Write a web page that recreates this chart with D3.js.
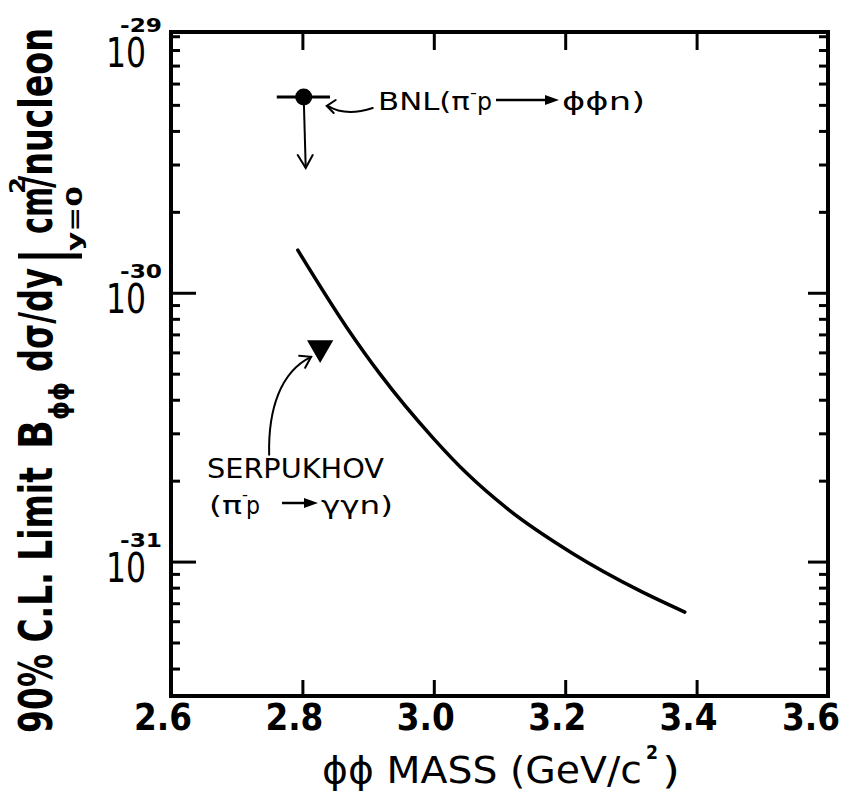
<!DOCTYPE html>
<meta charset="utf-8">
<style>
body { margin: 0; background: #fff; }
svg { font-family: "DejaVu Sans", sans-serif; }
.tick line { stroke: #000; stroke-width: 3px; }
.frame { fill: none; stroke: #000; stroke-width: 4px; }
.curve { fill: none; stroke: #000; stroke-width: 3.5px; stroke-linecap: round; }
.ann { fill: none; stroke: #000; stroke-width: 2px; stroke-linecap: round; }
</style>
<svg width="844" height="797"></svg>
<script src="https://cdn.jsdelivr.net/npm/d3@7"></script>
<script>
// phi-phi mass limit plot

var massTicks = [2.6, 2.8, 3.0, 3.2, 3.4, 3.6],
    massTickLabels = ["2.6", "2.8", "3.0", "3.2", "3.4", "3.6"];

var decadeTicks = [1e-29, 1e-30, 1e-31],
    decadeExps = ["-29", "-30", "-31"];

// the solid limit curve
var curveMass  = [2.793, 2.868, 2.918, 2.999, 3.051, 3.111, 3.212, 3.314, 3.382];
var curveLimit = [1.44e-30, 7.4e-31, 4.99e-31, 2.88e-31, 2.12e-31, 1.58e-31, 1.07e-31, 7.78e-32, 6.49e-32];

// BNL point (upper limit arrow) and Serpukhov triangle
var bnlMass = [2.802], bnlLimit = [5.35e-30],
    bnlMassLo = [2.761], bnlMassHi = [2.842], bnlArrowTo = [2.91e-30];
var serpMass = [2.827], serpLimit = [6.24e-31];

var svg = d3.select("svg"),
    L = 171, R = 828, T = 32, B = 696;

var x = d3.scaleLinear().domain([2.6, 3.6]).range([L, R]);
var y = d3.scaleLog().domain([Math.pow(10, -31.5), Math.pow(10, -29.03)]).range([B, T]);

// minor ticks: 2..9 x each decade inside the domain
var minor = [];
[-32, -31, -30].forEach(function(e) {
  d3.range(2, 10).forEach(function(k) {
    var v = k * Math.pow(10, e);
    if (v >= y.domain()[0] && v <= y.domain()[1]) minor.push(v);
  });
});

function clean(g) { g.select(".domain").remove(); g.selectAll("text").remove(); }

svg.append("g").attr("transform", "translate(" + L + ",0)")
    .call(d3.axisLeft(y).tickValues(minor).tickSize(-9)).call(clean);
svg.append("g").attr("transform", "translate(" + L + ",0)")
    .call(d3.axisLeft(y).tickValues([1e-30, 1e-31]).tickSize(-25)).call(clean);
svg.append("g").attr("transform", "translate(" + R + ",0)")
    .call(d3.axisRight(y).tickValues(minor).tickSize(-9)).call(clean);
svg.append("g").attr("transform", "translate(" + R + ",0)")
    .call(d3.axisRight(y).tickValues([1e-30, 1e-31]).tickSize(-20)).call(clean);
svg.append("g").attr("transform", "translate(0," + T + ")")
    .call(d3.axisTop(x).tickValues(massTicks.slice(1, -1)).tickSize(-18)).call(clean);
svg.append("g").attr("transform", "translate(0," + B + ")")
    .call(d3.axisBottom(x).tickValues(massTicks.slice(1, -1)).tickSize(-16)).call(clean);

svg.append("rect").attr("class", "frame")
    .attr("x", L).attr("y", T).attr("width", R - L).attr("height", B - T);

// text helpers: squeeze each run to the lettering width of the figure
function htext(str, x0, x1, base, size, weight) {
  var t = svg.append("text")
      .attr("font-size", size).attr("font-weight", weight || "normal")
      .text(str);
  var w = t.node().getComputedTextLength();
  t.attr("transform", "translate(" + x0 + "," + base + ") scale(" + ((x1 - x0) / w) + ",1)");
  return t;
}
function vtext(str, y0, y1, base, size, weight) {
  var t = svg.append("text")
      .attr("font-size", size).attr("font-weight", weight || "normal")
      .text(str);
  var w = t.node().getComputedTextLength();
  t.attr("transform", "translate(" + base + "," + y0 + ") rotate(-90) scale(" + ((y0 - y1) / w) + ",1)");
  return t;
}

// x tick labels (the last one sits a little left, as in the figure)
massTicks.forEach(function(m, i) {
  var cx = x(m) - (i == massTicks.length - 1 ? 17 : 8);
  htext(massTickLabels[i], cx - 29, cx + 29, 730, 38, "bold");
});

// y decade labels 10^n, mantissa and exponent in one text
decadeTicks.forEach(function(v, i) {
  var base = Math.max(y(v) + 20, 67);
  var t = svg.append("text").attr("x", 106).attr("y", base);
  t.append("tspan").attr("font-size", 40)
      .attr("textLength", 40).attr("lengthAdjust", "spacingAndGlyphs").text("10");
  t.append("tspan").attr("x", 120).attr("dy", -35)
      .attr("font-size", 20).attr("font-weight", "bold")
      .attr("textLength", 42).attr("lengthAdjust", "spacingAndGlyphs").text(decadeExps[i]);
});

// x title
htext("\u03D5\u03D5 MASS (GeV/c", 322, 642, 783, 38);
htext("2", 646, 658, 759, 20, "bold");
htext(")", 662, 680, 783, 38);

// y title, reading upwards
vtext("90% C.L. Limit", 733, 467, 52, 46, "bold");
vtext("B", 449, 420, 52, 46, "bold");
vtext("\u03D5\u03D5", 420, 382, 68, 26, "bold");
vtext("d\u03C3/dy", 372, 268, 52, 46, "bold");
svg.append("line").attr("x1", 18).attr("x2", 82).attr("y1", 256).attr("y2", 256)
    .attr("stroke", "#000").attr("stroke-width", 5);
vtext("cm", 234, 187, 52, 46, "bold");
vtext("2", 194, 177, 25, 22, "bold");
vtext("/nucleon", 188, 28, 52, 46, "bold");
vtext("y=0", 251, 186, 82, 22, "bold");

// limit curve
var line = d3.line()
    .curve(d3.curveMonotoneX)
    .x(function(d) { return x(d[0]); })
    .y(function(d) { return y(d[1]); });

svg.append("path").attr("class", "curve")
    .datum(d3.zip(curveMass, curveLimit))
    .attr("d", line);

// BNL point with horizontal bar and downward limit arrow
var bx = x(bnlMass[0]), by = y(bnlLimit[0]), bt = y(bnlArrowTo[0]);
svg.append("line").attr("x1", x(bnlMassLo[0])).attr("x2", x(bnlMassHi[0]))
    .attr("y1", by).attr("y2", by).attr("stroke", "#000").attr("stroke-width", 3);
svg.append("line").attr("x1", bx).attr("x2", bx + 2).attr("y1", by).attr("y2", bt)
    .attr("stroke", "#000").attr("stroke-width", 2);
svg.append("path").attr("class", "ann")
    .attr("d", "M" + (bx - 6) + "," + (bt - 13) + "L" + (bx + 2) + "," + bt + "L" + (bx + 9) + "," + (bt - 13));
svg.append("circle").attr("cx", bx).attr("cy", by).attr("r", 8.5).attr("fill", "#000");

// Serpukhov triangle
var sx = x(serpMass[0]), sy = y(serpLimit[0]);
svg.append("path")
    .attr("transform", "translate(" + sx + "," + sy + ") rotate(180)")
    .attr("d", d3.symbol(d3.symbolTriangle, 300)());

// annotation arrows
svg.append("path").attr("class", "ann")
    .attr("d", "M" + (bx + 69) + "," + (by + 11) + "Q" + (bx + 42) + "," + (by + 20) + " " + (bx + 24) + "," + (by + 9));
svg.append("path").attr("class", "ann")
    .attr("d", "M" + (bx + 32) + "," + (by + 3) + "L" + (bx + 23) + "," + (by + 9) + "L" + (bx + 30) + "," + (by + 16));

var tipX = sx - 9, tipY = sy + 9;
svg.append("path").attr("class", "ann")
    .attr("d", "M" + (sx - 51) + "," + (sy + 107) + "C" + (sx - 52) + "," + (sy + 62) + " " + (sx - 40) + "," + (sy + 24) + " " + tipX + "," + tipY);
svg.append("path").attr("class", "ann")
    .attr("d", "M" + (tipX - 12) + "," + (tipY - 1) + "L" + tipX + "," + tipY + "L" + (tipX - 6) + "," + (tipY + 11));

// BNL label
htext("BNL(\u03C0", 378, 470, 110, 25);
htext("-", 470, 477, 98, 16);
htext("p", 477, 492, 110, 25);
svg.append("line").attr("x1", 496).attr("x2", 548).attr("y1", 100).attr("y2", 100)
    .attr("stroke", "#000").attr("stroke-width", 2.5);
svg.append("path").attr("d", "M545,95L559,100L545,105Z");
htext("\u03D5\u03D5n)", 562, 645, 110, 25);

// Serpukhov label
htext("SERPUKHOV", 207, 384, 478, 27);
htext("(\u03C0", 209, 242, 514, 25);
htext("-", 242, 248, 500, 16);
htext("p", 246, 260, 514, 25);
svg.append("line").attr("x1", 282).attr("x2", 308).attr("y1", 503).attr("y2", 503)
    .attr("stroke", "#000").attr("stroke-width", 2.5);
svg.append("path").attr("d", "M304,498L318,503L304,508Z");
htext("\u03B3\u03B3n)", 321, 393, 514, 25);
</script>
